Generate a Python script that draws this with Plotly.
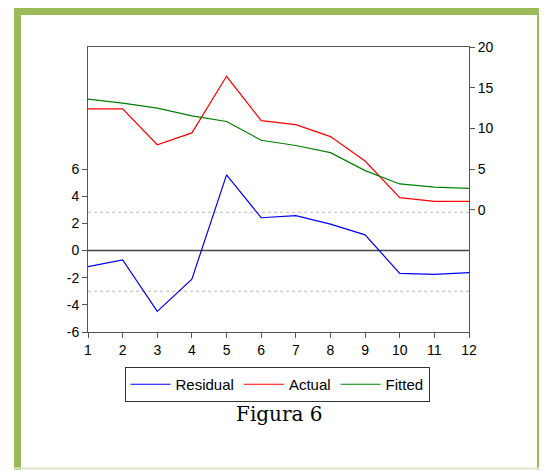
import plotly.graph_objects as go

periods = list(range(1, 13))
residual = [-1.19, -0.68, -4.48, -2.10, 5.58, 2.42, 2.57, 1.95, 1.16, -1.68, -1.76, -1.62]
actual = [12.40, 12.40, 8.00, 9.45, 16.40, 10.96, 10.47, 9.00, 6.00, 1.50, 1.05, 1.05]
fitted = [13.60, 13.10, 12.50, 11.55, 10.85, 8.55, 7.90, 7.03, 4.82, 3.18, 2.78, 2.65]
se_upper = 2.82
se_lower = -3.00

left_ticks = [-6, -4, -2, 0, 2, 4, 6]
left_labels = ["-6", "-4", "-2", "0", "2", "4", "6"]
right_ticks = [0, 5, 10, 15, 20]
right_labels = ["0", "5", "10", "15", "20"]
x_labels = [str(p) for p in periods]
caption = "Figura 6"

# page body has an 8px margin; work in screen pixels and shift
OFF = 8
W, H = 547 - OFF, 470 - OFF
L, R, T, B = 88 - OFF, 469 - OFF, 47 - OFF, 332 - OFF
pw, ph = R - L, B - T

def px(xpix):
    return (xpix - OFF - L) / pw

def py(ypix):
    return (B - (ypix - OFF)) / ph

fig = go.Figure()
fig.add_trace(go.Scatter(x=periods, y=residual, name="Residual", mode="lines",
                         line=dict(color="#0000FF", width=1.2), yaxis="y"))
fig.add_trace(go.Scatter(x=periods, y=actual, name="Actual", mode="lines",
                         line=dict(color="#FF0000", width=1.2), yaxis="y2"))
fig.add_trace(go.Scatter(x=periods, y=fitted, name="Fitted", mode="lines",
                         line=dict(color="#008000", width=1.2), yaxis="y2"))

axis_font = dict(family="Arial, Liberation Sans, sans-serif", size=14, color="#000000")
axcol = "#555555"

shapes = []
for v in (se_upper, se_lower):
    shapes.append(dict(type="line", xref="x", yref="y", x0=periods[0], x1=periods[-1],
                       y0=v, y1=v, line=dict(color="#BBBBBB", width=1, dash="dot"), layer="below"))
shapes.append(dict(type="line", xref="x", yref="y", x0=periods[0], x1=periods[-1],
                   y0=0, y1=0, line=dict(color="#444444", width=1.5), layer="below"))

green = "#9BBB59"
# frame border
shapes.append(dict(type="line", xref="paper", yref="paper", x0=px(17.5), x1=px(17.5),
                   y0=py(8), y1=py(472), line=dict(color=green, width=7)))
shapes.append(dict(type="line", xref="paper", yref="paper", x0=px(540.5), x1=px(540.5),
                   y0=py(8), y1=py(472), line=dict(color=green, width=7)))
shapes.append(dict(type="line", xref="paper", yref="paper", x0=px(14), x1=px(544),
                   y0=py(11.5), y1=py(11.5), line=dict(color=green, width=7)))
shapes.append(dict(type="line", xref="paper", yref="paper", x0=px(14), x1=px(544),
                   y0=py(468.5), y1=py(468.5), line=dict(color="#DDE6C8", width=2)))

fig.update_layout(
    width=W, height=H,
    margin=dict(l=L, r=W - R, t=T, b=H - B, pad=0),
    paper_bgcolor="#FFFFFF", plot_bgcolor="#FFFFFF",
    showlegend=True,
    legend=dict(orientation="h", x=px(277), xanchor="center", y=py(367), yanchor="top",
                bordercolor="#333333", borderwidth=1, bgcolor="#FFFFFF",
                font=dict(family="Arial, Liberation Sans, sans-serif", size=15, color="#000000"),
                itemwidth=40, tracegroupgap=0),
    xaxis=dict(range=[periods[0], periods[-1]], tickvals=periods, ticktext=x_labels,
               ticks="outside", ticklen=5, tickcolor=axcol, showline=True, linecolor=axcol,
               linewidth=1, mirror=True, showgrid=False, zeroline=False, tickfont=axis_font),
    yaxis=dict(range=[-6, 15], tickvals=left_ticks, ticktext=left_labels,
               ticks="outside", ticklen=5, tickcolor=axcol, showline=True, linecolor=axcol,
               linewidth=1, showgrid=False, zeroline=False, tickfont=axis_font),
    yaxis2=dict(range=[-15, 20], tickvals=right_ticks, ticktext=right_labels, overlaying="y",
                side="right", ticks="outside", ticklen=5, tickcolor=axcol, showline=True,
                linecolor=axcol, linewidth=1, showgrid=False, zeroline=False, tickfont=axis_font),
    shapes=shapes,
    annotations=[dict(text=caption, xref="paper", yref="paper", x=px(279.5), y=py(414),
                      xanchor="center", yanchor="middle", showarrow=False,
                      font=dict(family="DejaVu Serif, serif", size=20, color="#000000"))],
)

fig.write_html("out.html")
